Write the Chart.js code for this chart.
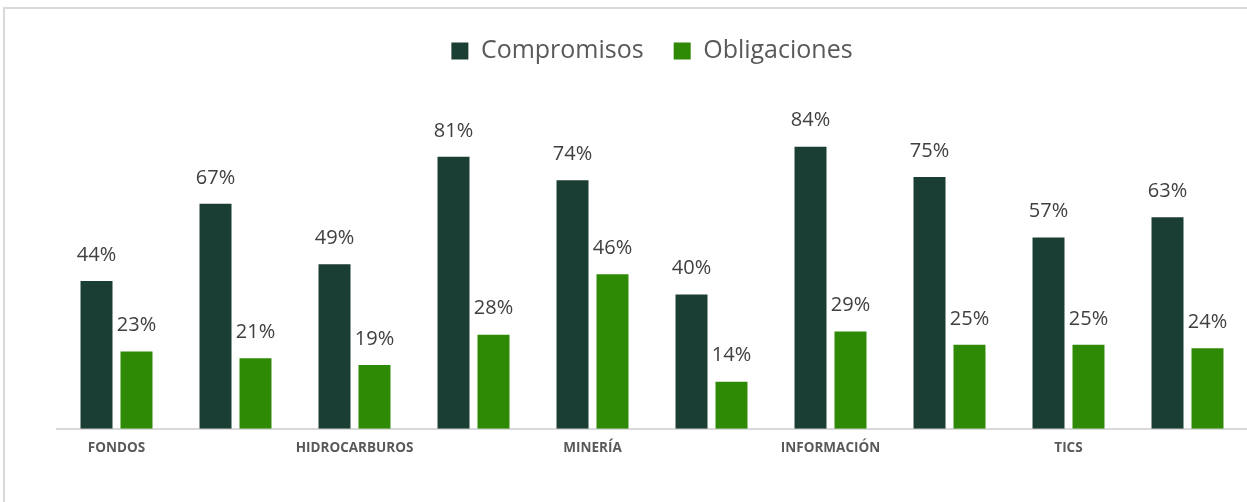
<!DOCTYPE html>
<html>
<head>
<meta charset="utf-8">
<script src="https://cdn.jsdelivr.net/npm/chart.js@4.4.1/dist/chart.umd.min.js"></script>
<style>
  html, body { margin: 0; padding: 0; background: #ffffff; overflow: hidden; }
  #wrap { position: absolute; left: 0; top: 0; width: 1247px; height: 502px; }
  #frame { position: absolute; left: 3px; top: 7px; width: 1260px; height: 520px;
           border-left: 2px solid #d9d9d9; border-top: 2px solid #d9d9d9; box-sizing: border-box; }
  canvas { position: absolute; left: 0; top: 0; }
</style>
</head>
<body>
<div id="wrap">
  <div id="frame"></div>
  <canvas id="c" width="1247" height="502"></canvas>
</div>
<script>
const categories = ['FONDOS', '', 'HIDROCARBUROS', '', 'MINERÍA', '', 'INFORMACIÓN', '', 'TICS', ''];
const compromisos = [44, 67, 49, 81, 74, 40, 84, 75, 57, 63];
const obligaciones = [23, 21, 19, 28, 46, 14, 29, 25, 25, 24];
const seriesNames = ['Compromisos', 'Obligaciones'];
const seriesColors = ['#1b3e34', '#2e8a04'];

const valueLabels = {
  id: 'valueLabels',
  afterDatasetsDraw(chart) {
    const ctx = chart.ctx;
    ctx.save();
    ctx.font = '20px "Open Sans"';
    ctx.fillStyle = '#404040';
    ctx.textAlign = 'center';
    ctx.textBaseline = 'middle';
    chart.data.datasets.forEach((ds, i) => {
      const meta = chart.getDatasetMeta(i);
      meta.data.forEach((bar, j) => {
        ctx.fillText(ds.data[j] + '%', bar.x, bar.y - 26);
      });
    });
    ctx.restore();
  }
};

const legendSpace = {
  id: 'legendSpace',
  beforeInit(chart) {
    const lg = chart.legend;
    if (!lg) return;
    const orig = lg.fit;
    lg.fit = function () {
      orig.call(this);
      this.height += 19.5;
    };
  }
};

new Chart(document.getElementById('c'), {
  type: 'bar',
  data: {
    labels: categories,
    datasets: [
      { label: seriesNames[0], data: compromisos, backgroundColor: seriesColors[0] },
      { label: seriesNames[1], data: obligaciones, backgroundColor: seriesColors[1] }
    ]
  },
  options: {
    responsive: false,
    animation: false,
    devicePixelRatio: 1,
    layout: { padding: { top: 8.5, left: 57, right: 0, bottom: 35 } },
    datasets: { bar: { categoryPercentage: 0.672, barPercentage: 0.8 } },
    plugins: {
      legend: {
        position: 'top',
        labels: {
          font: { family: 'Open Sans', size: 25 },
          color: '#595959',
          boxWidth: 17,
          boxHeight: 17,
          padding: 30
        }
      },
      tooltip: { enabled: false }
    },
    scales: {
      x: {
        grid: { display: false, drawTicks: false },
        border: { display: true, color: '#d9d9d9', width: 2 },
        ticks: {
          autoSkip: false,
          maxRotation: 0,
          padding: 11,
          color: '#595959',
          font: { family: 'Open Sans', size: 13.5, weight: 'bold' }
        }
      },
      y: {
        display: false,
        min: 0,
        max: 100
      }
    }
  },
  plugins: [legendSpace, valueLabels]
});
</script>
</body>
</html>
